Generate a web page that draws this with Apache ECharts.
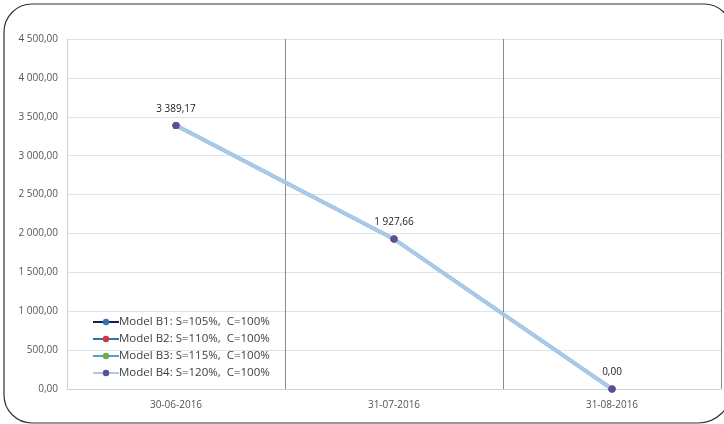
<!DOCTYPE html>
<html>
<head>
<meta charset="utf-8">
<script src="https://cdn.jsdelivr.net/npm/echarts@6/dist/echarts.min.js"></script>
<style>
  html, body { margin: 0; padding: 0; background: #fff; }
  #chart { width: 724px; height: 424px; }
</style>
</head>
<body>
<div id="chart"></div>
<script>
var categories = ['30-06-2016', '31-07-2016', '31-08-2016']
var seriesNames = [
    'Model B1: S=105%,  C=100%',
    'Model B2: S=110%,  C=100%',
    'Model B3: S=115%,  C=100%',
    'Model B4: S=120%,  C=100%'
]
var modelB1 = [3389.17, 1927.66, 0]
var modelB2 = [3389.17, 1927.66, 0]
var modelB3 = [3389.17, 1927.66, 0]
var modelB4 = [3389.17, 1927.66, 0]
var yMin = 0, yMax = 4500, yStep = 500

var lineColors = ['#14224d', '#2e75b6', '#5b9bd5', '#a9c9e8']
var markColors = ['#2e75b6', '#d0363c', '#70ad47', '#5f4b9b']

// 3 389,17 style numbers
function fmt(v) {
    var parts = Number(v).toFixed(2).split('.')
    var intPart = parts[0].replace(/\B(?=(\d{3})+(?!\d))/g, ' ')
    return intPart + ',' + parts[1]
}

var chart = echarts.init(document.getElementById('chart'))
var allData = [modelB1, modelB2, modelB3, modelB4]

var series = allData.map(function (d, i) {
    var last = i === allData.length - 1
    return {
        name: seriesNames[i],
        type: 'line',
        data: d,
        symbol: 'circle',
        symbolSize: 7,
        // the last line sits on top and hides the others
        lineStyle: { color: lineColors[i], width: last ? 4 : 3 },
        itemStyle: { color: markColors[i] },
        label: {
            show: last,
            position: 'top',
            distance: 8,
            color: '#222',
            fontSize: 10,
            fontFamily: 'Open Sans',
            formatter: function (p) { return fmt(p.value) }
        },
        emphasis: { disabled: true },
        animation: false
    }
})

var option = {
    backgroundColor: '#fff',
    animation: false,
    graphic: [{
        type: 'rect',
        shape: { x: 4, y: 4, width: 728, height: 419, r: [28, 28, 34, 28] },
        style: { fill: 'none', stroke: '#333', lineWidth: 1.2 },
        z: 100,
        silent: true
    }],
    grid: { left: 67, right: 3, top: 39, bottom: 35 },
    legend: {
        orient: 'vertical',
        left: 87,
        top: 311,
        itemWidth: 26,
        itemHeight: 8,
        itemGap: 5,
        textStyle: { color: '#404040', fontSize: 11.5, fontFamily: 'Open Sans', padding: [0, 0, 0, -5] },
        data: seriesNames
    },
    xAxis: {
        type: 'category',
        data: categories,
        boundaryGap: true,
        axisLine: { show: true, lineStyle: { color: '#d0d0d0' } },
        axisTick: { show: false },
        axisLabel: { color: '#555', fontSize: 10, fontFamily: 'Open Sans', margin: 11 },
        splitLine: {
            show: true,
            showMinLine: false,
            showMaxLine: true,
            lineStyle: { color: '#8a8a8a', width: 1 }
        }
    },
    yAxis: {
        type: 'value',
        min: yMin,
        max: yMax,
        interval: yStep,
        axisLine: { show: true, lineStyle: { color: '#d0d0d0' } },
        axisTick: { show: false },
        axisLabel: {
            color: '#555',
            fontSize: 10,
            fontFamily: 'Open Sans',
            margin: 9,
            formatter: function (v) { return fmt(v) }
        },
        splitLine: { lineStyle: { color: '#dde3e6' } }
    },
    series: series
}

chart.setOption(option)
</script>
</body>
</html>
